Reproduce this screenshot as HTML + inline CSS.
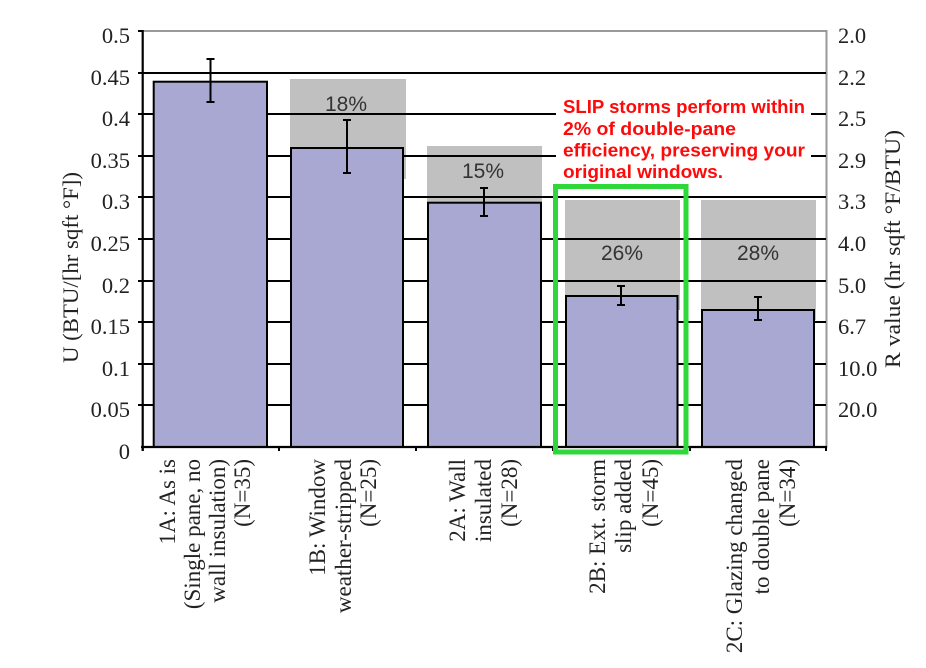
<!DOCTYPE html>
<html>
<head>
<meta charset="utf-8">
<style>
  html,body{margin:0;padding:0;background:#fff;}
  svg{display:block;}
  .tick{font-family:"Liberation Serif",serif;font-size:22.5px;fill:#222;}
  .xl{font-family:"Liberation Serif",serif;font-size:23px;fill:#222;}
  .pct{font-family:"Liberation Sans",sans-serif;font-size:21px;fill:#333;}
  .red{font-family:"Liberation Sans",sans-serif;font-size:18px;font-weight:bold;fill:#ff0a0a;}
</style>
</head>
<body>
<svg width="926" height="668" viewBox="0 0 926 668" xmlns="http://www.w3.org/2000/svg">
  <rect x="0" y="0" width="926" height="668" fill="#fff"/>

  <!-- gray "previous" bars -->
  <rect x="290" y="79" width="116" height="100" fill="#c0c0c0"/>
  <rect x="427" y="146" width="115" height="70" fill="#c0c0c0"/>
  <rect x="565" y="200" width="115" height="110" fill="#c0c0c0"/>
  <rect x="701" y="200" width="115" height="120" fill="#c0c0c0"/>

  <!-- top & right border -->
  <line x1="142" y1="31" x2="827" y2="31" stroke="#999" stroke-width="2"/>
  <line x1="826.5" y1="30" x2="826.5" y2="448" stroke="#999" stroke-width="2"/>

  <!-- gridlines -->
  <g stroke="#000" stroke-width="2">
    <line x1="138" y1="73" x2="826" y2="73"/>
    <line x1="138" y1="114" x2="826" y2="114"/>
    <line x1="138" y1="156" x2="826" y2="156"/>
    <line x1="138" y1="197" x2="826" y2="197"/>
    <line x1="138" y1="239" x2="826" y2="239"/>
    <line x1="138" y1="281" x2="826" y2="281"/>
    <line x1="138" y1="322" x2="826" y2="322"/>
    <line x1="138" y1="364" x2="826" y2="364"/>
    <line x1="138" y1="405" x2="826" y2="405"/>
    <line x1="138" y1="31" x2="142" y2="31"/>
  </g>

  <!-- white box behind annotation -->
  <rect x="556" y="94" width="255" height="90" fill="#fff"/>

  <!-- blue bars -->
  <g fill="#a8a8d2" stroke="#000" stroke-width="2">
    <rect x="153.7" y="81.7" width="113.3" height="365.3"/>
    <rect x="291" y="148" width="112" height="299"/>
    <rect x="428" y="202.7" width="113" height="244.3"/>
    <rect x="566" y="296" width="111.5" height="151"/>
    <rect x="702" y="310" width="112" height="137"/>
  </g>

  <!-- error bars -->
  <g stroke="#000" stroke-width="2">
    <line x1="210.5" y1="59" x2="210.5" y2="102"/><line x1="206.5" y1="59" x2="214.5" y2="59"/><line x1="206.5" y1="102" x2="214.5" y2="102"/>
    <line x1="347" y1="120" x2="347" y2="173"/><line x1="343" y1="120" x2="351" y2="120"/><line x1="343" y1="173" x2="351" y2="173"/>
    <line x1="484" y1="188" x2="484" y2="216"/><line x1="480" y1="188" x2="488" y2="188"/><line x1="480" y1="216" x2="488" y2="216"/>
    <line x1="621" y1="286" x2="621" y2="305"/><line x1="617" y1="286" x2="625" y2="286"/><line x1="617" y1="305" x2="625" y2="305"/>
    <line x1="758" y1="297" x2="758" y2="320"/><line x1="754" y1="297" x2="762" y2="297"/><line x1="754" y1="320" x2="762" y2="320"/>
  </g>

  <!-- axes -->
  <line x1="142.7" y1="30" x2="142.7" y2="451" stroke="#000" stroke-width="2.2"/>
  <line x1="141" y1="447" x2="827" y2="447" stroke="#000" stroke-width="2.2"/>
  <g stroke="#000" stroke-width="2">
    <line x1="142.7" y1="447" x2="142.7" y2="451"/>
    <line x1="279" y1="447" x2="279" y2="451"/>
    <line x1="416" y1="447" x2="416" y2="451"/>
    <line x1="553" y1="447" x2="553" y2="451"/>
    <line x1="690" y1="447" x2="690" y2="451"/>
    <line x1="826" y1="447" x2="826" y2="451"/>
  </g>

  <!-- percent labels -->
  <text class="pct" x="346" y="111" text-anchor="middle">18%</text>
  <text class="pct" x="483" y="178" text-anchor="middle">15%</text>
  <text class="pct" x="622" y="260" text-anchor="middle">26%</text>
  <text class="pct" x="758" y="260" text-anchor="middle">28%</text>

  <!-- left tick labels -->
  <g class="tick" text-anchor="end">
    <text x="130" y="43">0.5</text>
    <text x="130" y="85">0.45</text>
    <text x="130" y="126">0.4</text>
    <text x="130" y="168">0.35</text>
    <text x="130" y="209">0.3</text>
    <text x="130" y="251">0.25</text>
    <text x="130" y="293">0.2</text>
    <text x="130" y="334">0.15</text>
    <text x="130" y="376">0.1</text>
    <text x="130" y="417">0.05</text>
    <text x="130" y="459">0</text>
  </g>

  <!-- right tick labels -->
  <g class="tick" text-anchor="start">
    <text x="838" y="43">2.0</text>
    <text x="838" y="85">2.2</text>
    <text x="838" y="126">2.5</text>
    <text x="838" y="168">2.9</text>
    <text x="838" y="209">3.3</text>
    <text x="838" y="251">4.0</text>
    <text x="838" y="293">5.0</text>
    <text x="838" y="334">6.7</text>
    <text x="838" y="376">10.0</text>
    <text x="838" y="417">20.0</text>
  </g>

  <!-- axis titles -->
  <text class="tick" transform="translate(78,267.5) rotate(-90)" text-anchor="middle" textLength="191" lengthAdjust="spacingAndGlyphs">U (BTU/[hr sqft °F])</text>
  <text class="tick" transform="translate(900,249) rotate(-90)" text-anchor="middle" textLength="238" lengthAdjust="spacingAndGlyphs">R value (hr sqft °F/BTU)</text>

  <!-- x category labels -->
  <g class="xl" text-anchor="end">
    <text transform="translate(175,459) rotate(-90)">1A: As is</text>
    <text transform="translate(200,459) rotate(-90)">(Single pane, no</text>
    <text transform="translate(225,459) rotate(-90)">wall insulation)</text>
    <text transform="translate(250,459) rotate(-90)">(N=35)</text>

    <text transform="translate(325,459) rotate(-90)">1B: Window</text>
    <text transform="translate(351,459) rotate(-90)">weather-stripped</text>
    <text transform="translate(376,459) rotate(-90)">(N=25)</text>

    <text transform="translate(465,459) rotate(-90)">2A: Wall</text>
    <text transform="translate(491,459) rotate(-90)">insulated</text>
    <text transform="translate(517,459) rotate(-90)">(N=28)</text>

    <text transform="translate(605,459) rotate(-90)">2B: Ext. storm</text>
    <text transform="translate(631,459) rotate(-90)">slip added</text>
    <text transform="translate(658,459) rotate(-90)">(N=45)</text>

    <text transform="translate(742,459) rotate(-90)">2C: Glazing changed</text>
    <text transform="translate(769,459) rotate(-90)">to double pane</text>
    <text transform="translate(795,459) rotate(-90)">(N=34)</text>
  </g>

  <!-- green highlight box -->
  <rect x="555.5" y="186.5" width="130.5" height="265.5" fill="none" stroke="#2fd83a" stroke-width="5"/>

  <!-- red annotation -->
  <g class="red">
    <text x="563" y="113" textLength="242" lengthAdjust="spacingAndGlyphs">SLIP storms perform within</text>
    <text x="563" y="135" textLength="173" lengthAdjust="spacingAndGlyphs">2% of double-pane</text>
    <text x="563" y="156.5" textLength="242" lengthAdjust="spacingAndGlyphs">efficiency, preserving your</text>
    <text x="563" y="178" textLength="160" lengthAdjust="spacingAndGlyphs">original windows.</text>
  </g>
</svg>
</body>
</html>
